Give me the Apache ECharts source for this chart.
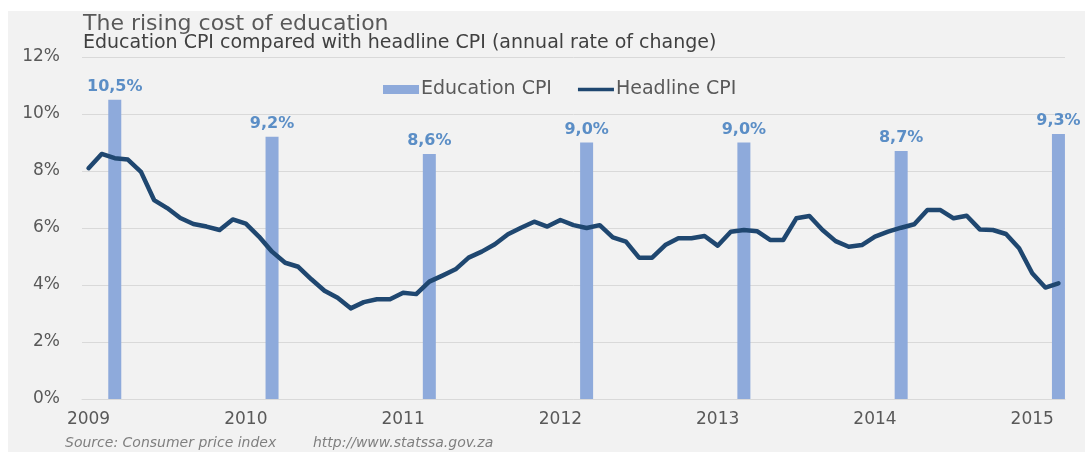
<!DOCTYPE html>
<html>
<head>
<meta charset="utf-8">
<script src="https://cdn.jsdelivr.net/npm/echarts@6/dist/echarts.min.js"></script>
<style>
  html, body { margin: 0; padding: 0; background: #fff; }
  #wrap { position: relative; width: 1085px; height: 452px; background: #fff; }
  #bg { position: absolute; left: 8px; top: 11px; right: 0; bottom: 0; background: #f2f2f2; }
  #chart { position: absolute; left: 0; top: 0; width: 1085px; height: 452px; }
</style>
</head>
<body>
<div id="wrap">
  <div id="bg"></div>
  <div id="chart"></div>
</div>
<script>
// monthly headline CPI, Jan 2009 - Mar 2015 (annual % change)
const years = [2009, 2010, 2011, 2012, 2013, 2014, 2015]
const monthsPerYear = [12, 12, 12, 12, 12, 12, 3]

const headlineCPI = [
  8.1, 8.6, 8.45, 8.4, 7.97, 6.98, 6.7, 6.35, 6.14, 6.05, 5.93, 6.3,
  6.15, 5.7, 5.17, 4.78, 4.64, 4.2, 3.8, 3.55, 3.18, 3.4, 3.5, 3.5,
  3.73, 3.68, 4.12, 4.33, 4.55, 4.96, 5.17, 5.43, 5.78, 6.01, 6.22, 6.05,
  6.28, 6.1, 6.0, 6.1, 5.67, 5.52, 4.96, 4.96, 5.4, 5.64, 5.64, 5.72,
  5.38, 5.87, 5.93, 5.89, 5.58, 5.58, 6.34, 6.42, 5.93, 5.54, 5.34, 5.4,
  5.7, 5.87, 6.01, 6.13, 6.63, 6.63, 6.34, 6.43, 5.95, 5.93, 5.79, 5.29,
  4.41, 3.91, 4.06
]

// education CPI is measured once a year, in March
const educationMonths = ['2009-03', '2010-03', '2011-03', '2012-03', '2013-03', '2014-03', '2015-03']
const educationCPI = [10.5, 9.2, 8.6, 9.0, 9.0, 8.7, 9.3]

const yTicks = [0, 2, 4, 6, 8, 10, 12]

const categories = []
years.forEach((y, i) => {
  for (let m = 1; m <= monthsPerYear[i]; m++) {
    categories.push(y + '-' + String(m).padStart(2, '0'))
  }
})
const educationData = categories.map(c => {
  const k = educationMonths.indexOf(c)
  return k < 0 ? null : educationCPI[k]
})

const grey = '#595959'
const font = 'DejaVu Sans'

const chart = echarts.init(document.getElementById('chart'))
chart.setOption({
  backgroundColor: 'transparent',
  animation: false,
  textStyle: { fontFamily: font },
  title: [
    {
      text: 'The rising cost of education',
      left: 78, top: 8,
      textStyle: { fontFamily: font, fontSize: 22, fontWeight: 'normal', color: grey },
    },
    {
      text: 'Education CPI compared with headline CPI (annual rate of change)',
      left: 78, top: 29,
      textStyle: { fontFamily: font, fontSize: 19, fontWeight: 'normal', color: '#404040' },
    },
    {
      text: 'Source: Consumer price index',
      left: 60, top: 431,
      textStyle: { fontFamily: font, fontSize: 14, fontWeight: 'normal', fontStyle: 'italic', color: '#7f7f7f' },
    },
    {
      text: 'http://www.statssa.gov.za',
      left: 308, top: 431,
      textStyle: { fontFamily: font, fontSize: 14, fontWeight: 'normal', fontStyle: 'italic', color: '#7f7f7f' },
    },
  ],
  legend: {
    left: 378, top: 75,
    itemWidth: 36, itemHeight: 9,
    itemGap: 26,
    symbolKeepAspect: true,
    textStyle: { fontFamily: font, fontSize: 19, color: grey, padding: [0, 0, 0, -3] },
    data: [
      { name: 'Education CPI', icon: 'rect' },
      { name: 'Headline CPI', icon: 'path://M0,0 L40,0 L40,4 L0,4 Z' },
    ],
  },
  grid: { left: 82, right: 20, top: 57, bottom: 53 },
  xAxis: {
    type: 'category',
    data: categories,
    boundaryGap: true,
    axisLine: { show: true, lineStyle: { color: '#d9d9d9', width: 1 } },
    axisTick: { show: false },
    axisLabel: {
      interval: i => categories[i].endsWith('-01'),
      formatter: v => v.slice(0, 4),
      fontFamily: font, fontSize: 17, color: grey, margin: 12,
    },
  },
  yAxis: {
    type: 'value',
    min: yTicks[0], max: yTicks[yTicks.length - 1], interval: 2,
    axisLine: { show: false },
    axisTick: { show: false },
    splitLine: { lineStyle: { color: '#d9d9d9', width: 1 } },
    axisLabel: { formatter: '{value}%', fontFamily: font, fontSize: 17, color: grey, margin: 22 },
  },
  series: [
    {
      name: 'Education CPI',
      type: 'bar',
      data: educationData,
      barWidth: 13,
      itemStyle: { color: '#8eaadb' },
      label: {
        show: true,
        position: 'top',
        distance: 5,
        formatter: p => p.value.toFixed(1).replace('.', ',') + '%',
        fontFamily: font, fontSize: 16, fontWeight: 'bold', color: '#5b8ec6',
      },
      z: 2,
    },
    {
      name: 'Headline CPI',
      type: 'line',
      data: headlineCPI,
      symbol: 'none',
      lineStyle: { color: '#1f4770', width: 4.5, join: 'round', cap: 'round' },
      itemStyle: { color: '#1f4770' },
      z: 3,
    },
  ],
})
</script>
</body>
</html>
